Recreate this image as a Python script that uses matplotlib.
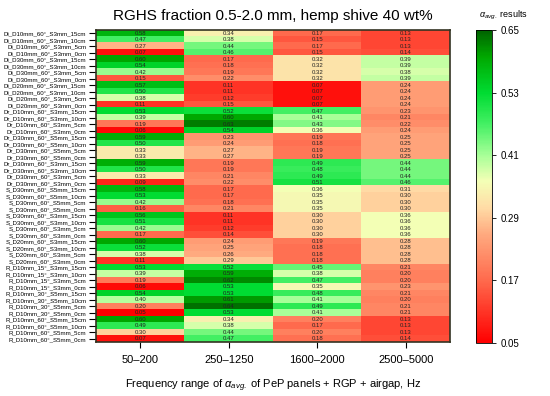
import matplotlib
matplotlib.use("Agg")
import matplotlib.pyplot as plt
import numpy as np
from matplotlib.colors import LinearSegmentedColormap

plt.rcParams["font.family"] = ["Liberation Sans", "DejaVu Sans"]
plt.rcParams["mathtext.fontset"] = "custom"
plt.rcParams["mathtext.rm"] = "Liberation Sans"
plt.rcParams["mathtext.it"] = "Liberation Sans:italic"

rows = [
    "Di_D10mm_60°_S3mm_15cm", "Di_D10mm_60°_S3mm_10cm", "Di_D10mm_60°_S3mm_5cm", "Di_D10mm_60°_S3mm_0cm",
    "Di_D30mm_60°_S3mm_15cm", "Di_D30mm_60°_S3mm_10cm", "Di_D30mm_60°_S3mm_5cm", "Di_D30mm_60°_S3mm_0cm",
    "Di_D20mm_60°_S3mm_15cm", "Di_D20mm_60°_S3mm_10cm", "Di_D20mm_60°_S3mm_5cm", "Di_D20mm_60°_S3mm_0cm",
    "Dr_D10mm_60°_S3mm_15cm", "Dr_D10mm_60°_S3mm_10cm", "Dr_D10mm_60°_S3mm_5cm", "Dr_D10mm_60°_S3mm_0cm",
    "Dr_D30mm_60°_S5mm_15cm", "Dr_D30mm_60°_S5mm_10cm", "Dr_D30mm_60°_S5mm_5cm", "Dr_D30mm_60°_S5mm_0cm",
    "Dr_D30mm_60°_S3mm_15cm", "Dr_D30mm_60°_S3mm_10cm", "Dr_D30mm_60°_S3mm_5cm", "Dr_D30mm_60°_S3mm_0cm",
    "S_D30mm_60°_S5mm_15cm", "S_D30mm_60°_S5mm_10cm", "S_D30mm_60°_S5mm_5cm", "S_D30mm_60°_S5mm_0cm",
    "S_D30mm_60°_S3mm_15cm", "S_D30mm_60°_S3mm_10cm", "S_D30mm_60°_S3mm_5cm", "S_D30mm_60°_S3mm_0cm",
    "S_D20mm_60°_S3mm_15cm", "S_D20mm_60°_S3mm_10cm", "S_D20mm_60°_S3mm_5cm", "S_D20mm_60°_S3mm_0cm",
    "R_D10mm_15°_S3mm_15cm", "R_D10mm_15°_S3mm_10cm", "R_D10mm_15°_S3mm_5cm", "R_D10mm_15°_S3mm_0cm",
    "R_D10mm_30°_S5mm_15cm", "R_D10mm_30°_S5mm_10cm", "R_D10mm_30°_S5mm_5cm", "R_D10mm_30°_S5mm_0cm",
    "R_D10mm_60°_S5mm_15cm", "R_D10mm_60°_S5mm_10cm", "R_D10mm_60°_S5mm_5cm", "R_D10mm_60°_S5mm_0cm",
]

freq_ranges = ["50–200", "250–1250", "1600–2000", "2500–5000"]

band_50_200 = [0.58, 0.47, 0.27, 0.07, 0.60, 0.54, 0.42, 0.15, 0.57, 0.50, 0.38, 0.11,
               0.53, 0.39, 0.19, 0.06, 0.59, 0.50, 0.33, 0.33, 0.59, 0.50, 0.33, 0.09,
               0.58, 0.53, 0.42, 0.16, 0.56, 0.51, 0.42, 0.17, 0.60, 0.52, 0.38, 0.11,
               0.53, 0.39, 0.19, 0.06, 0.54, 0.40, 0.20, 0.05, 0.60, 0.49, 0.30, 0.07]
band_250_1250 = [0.34, 0.38, 0.44, 0.46, 0.17, 0.18, 0.19, 0.22, 0.11, 0.11, 0.12, 0.15,
                 0.52, 0.60, 0.63, 0.54, 0.23, 0.24, 0.27, 0.27, 0.19, 0.19, 0.21, 0.22,
                 0.17, 0.17, 0.18, 0.21, 0.11, 0.11, 0.12, 0.14, 0.24, 0.25, 0.26, 0.29,
                 0.52, 0.59, 0.62, 0.53, 0.53, 0.61, 0.64, 0.53, 0.34, 0.38, 0.44, 0.47]
band_1600_2000 = [0.17, 0.15, 0.17, 0.15, 0.32, 0.32, 0.32, 0.32, 0.07, 0.07, 0.07, 0.07,
                  0.47, 0.41, 0.43, 0.36, 0.19, 0.18, 0.19, 0.19, 0.49, 0.48, 0.49, 0.51,
                  0.36, 0.35, 0.35, 0.35, 0.30, 0.30, 0.30, 0.30, 0.19, 0.18, 0.18, 0.18,
                  0.45, 0.38, 0.47, 0.35, 0.48, 0.41, 0.49, 0.41, 0.20, 0.17, 0.20, 0.18]
band_2500_5000 = [0.13, 0.13, 0.13, 0.14, 0.39, 0.39, 0.38, 0.39, 0.24, 0.24, 0.24, 0.24,
                  0.23, 0.21, 0.22, 0.24, 0.25, 0.25, 0.25, 0.25, 0.44, 0.44, 0.44, 0.46,
                  0.31, 0.30, 0.30, 0.30, 0.36, 0.36, 0.36, 0.36, 0.28, 0.28, 0.28, 0.28,
                  0.21, 0.20, 0.20, 0.23, 0.21, 0.20, 0.21, 0.21, 0.13, 0.13, 0.13, 0.14]

cbar_ticks = [0.05, 0.17, 0.29, 0.41, 0.53, 0.65]

data = np.array([band_50_200, band_250_1250, band_1600_2000, band_2500_5000]).T

vmin, vmax = 0.05, 0.65
stops = [(0.05, "#ff0000"), (0.17, "#ff6a4d"), (0.26, "#ffab80"), (0.31, "#ffdca6"),
         (0.36, "#f4ffb6"), (0.41, "#a8ff98"), (0.47, "#44f064"), (0.53, "#00dc32"),
         (0.60, "#00a800"), (0.65, "#006400")]
cmap = LinearSegmentedColormap.from_list(
    "rg", [((v - vmin) / (vmax - vmin), c) for v, c in stops])

fig = plt.figure(figsize=(5.5, 3.96), dpi=100)
ax = fig.add_axes([0.1745, 0.136, 0.6436, 0.788])
im = ax.imshow(data, cmap=cmap, vmin=vmin, vmax=vmax, aspect="auto",
               interpolation="nearest")

for i in range(data.shape[0]):
    for j in range(data.shape[1]):
        ax.text(j, i, f"{data[i, j]:.2f}", ha="center", va="center",
                fontsize=4.3, color="#222222")

ax.set_xticks(range(len(freq_ranges)))
ax.set_xticklabels(freq_ranges, fontsize=8)
ax.set_yticks(range(len(rows)))
ax.set_yticklabels(rows, fontsize=4.4)
ax.tick_params(axis="y", length=5, width=0.8, pad=2)
ax.tick_params(axis="x", length=4, width=0.8, pad=5)
for s in ax.spines.values():
    s.set_linewidth(1.2)
    s.set_color("#333322")

ax.set_title("RGHS fraction 0.5-2.0 mm, hemp shive 40 wt%", fontsize=11, pad=7)
ax.set_xlabel(r"Frequency range of $\alpha_{avg.}$ of PeP panels + RGP + airgap, Hz",
              fontsize=8, labelpad=9)

cax = fig.add_axes([0.865, 0.134, 0.029, 0.79])
cb = fig.colorbar(im, cax=cax, ticks=cbar_ticks)
cb.ax.set_yticklabels([f"{t:.2f}" for t in cbar_ticks], fontsize=7)
cb.ax.tick_params(length=3, width=0.6)
cb.outline.set_linewidth(0.6)
fig.text(0.915, 0.945, r"$\alpha_{avg.}$ results", fontsize=6.5, ha="center", va="bottom")

fig.savefig("out.png", dpi=100)
